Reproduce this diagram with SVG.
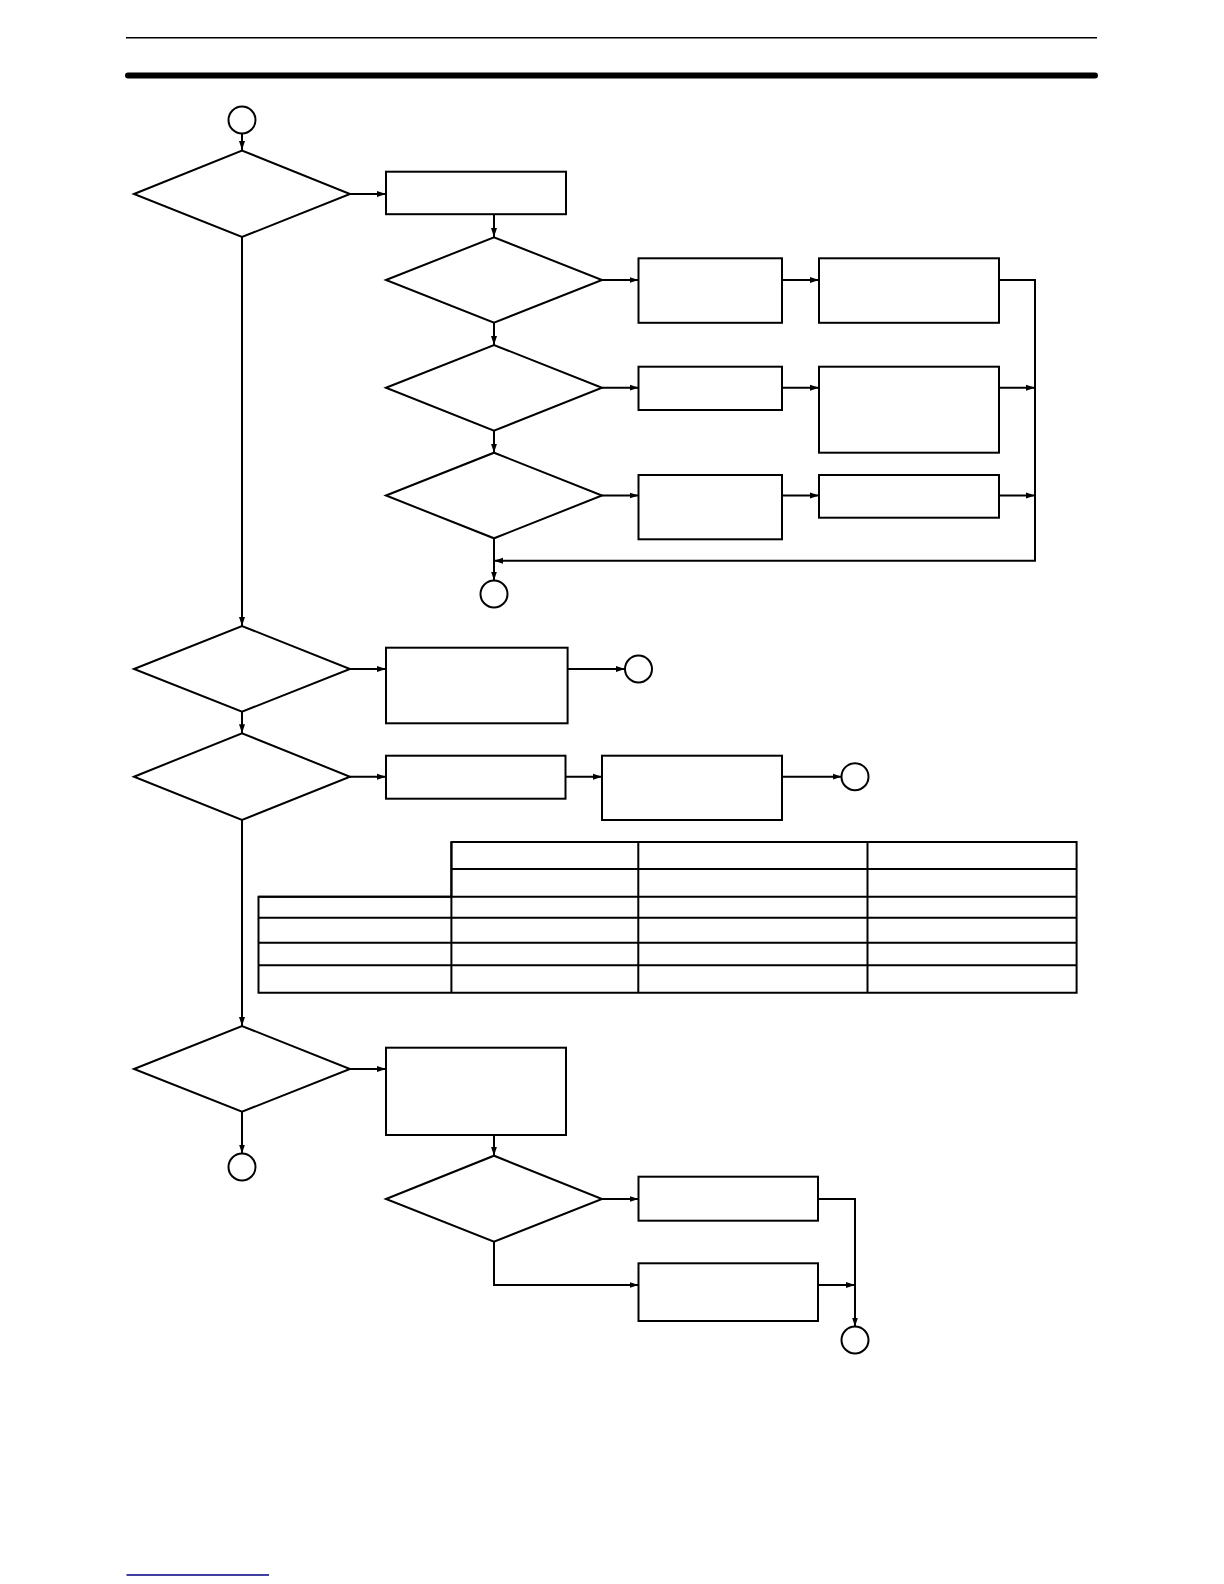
<svg xmlns="http://www.w3.org/2000/svg" width="1224" height="1584" viewBox="0 0 1224 1584">
<style>
.n{fill:#fff;stroke:#000;stroke-width:2}
.c{fill:none;stroke:#000;stroke-width:2}
.t{fill:none;stroke:#000;stroke-width:2}
</style>
<defs>
<marker id="ah" markerUnits="userSpaceOnUse" markerWidth="10" markerHeight="8" refX="9" refY="4" orient="auto">
<path d="M0,1 L9,4 L0,7 Z" fill="#000"/>
</marker>
</defs>
<rect width="1224" height="1584" fill="#fff"/>
<line x1="126" y1="37.7" x2="1097" y2="37.7" stroke="#000" stroke-width="1.6"/>
<line x1="128" y1="75.5" x2="1095" y2="75.5" stroke="#000" stroke-width="6" stroke-linecap="round"/>
<line x1="126.5" y1="1575" x2="269" y2="1575" stroke="#000080" stroke-width="1.4"/>

<g id="connectors">
<path class="c" d="M242,133.5 V150" marker-end="url(#ah)"/>
<path class="c" d="M350,194 H386" marker-end="url(#ah)"/>
<path class="c" d="M494,214 V237" marker-end="url(#ah)"/>
<path class="c" d="M602,280 H638.5" marker-end="url(#ah)"/>
<path class="c" d="M782,280 H819" marker-end="url(#ah)"/>
<path class="c" d="M999,280 H1035 V560.7 H494" marker-end="url(#ah)"/>
<path class="c" d="M494,322.7 V345" marker-end="url(#ah)"/>
<path class="c" d="M602,387.7 H638.5" marker-end="url(#ah)"/>
<path class="c" d="M782,387.7 H819" marker-end="url(#ah)"/>
<path class="c" d="M999,387.7 H1035" marker-end="url(#ah)"/>
<path class="c" d="M494,430.7 V452.7" marker-end="url(#ah)"/>
<path class="c" d="M602,495.5 H638.5" marker-end="url(#ah)"/>
<path class="c" d="M782,495.5 H819" marker-end="url(#ah)"/>
<path class="c" d="M999,495.5 H1035" marker-end="url(#ah)"/>
<path class="c" d="M494,538.3 V580.5" marker-end="url(#ah)"/>
<path class="c" d="M242,237 V626" marker-end="url(#ah)"/>
<path class="c" d="M350,669 H386" marker-end="url(#ah)"/>
<path class="c" d="M567.6,669 H625" marker-end="url(#ah)"/>
<path class="c" d="M242,711.7 V733.3" marker-end="url(#ah)"/>
<path class="c" d="M350,776.7 H386" marker-end="url(#ah)"/>
<path class="c" d="M565.5,776.7 H602" marker-end="url(#ah)"/>
<path class="c" d="M782,776.7 H841.5" marker-end="url(#ah)"/>
<path class="c" d="M242,820 V1026" marker-end="url(#ah)"/>
<path class="c" d="M350,1069 H386" marker-end="url(#ah)"/>
<path class="c" d="M242,1111.7 V1153.5" marker-end="url(#ah)"/>
<path class="c" d="M494,1135 V1155.7" marker-end="url(#ah)"/>
<path class="c" d="M602,1199 H638.5" marker-end="url(#ah)"/>
<path class="c" d="M818,1199 H855 V1326.5" marker-end="url(#ah)"/>
<path class="c" d="M494,1241.7 V1285 H638.5" marker-end="url(#ah)"/>
<path class="c" d="M818,1285 H855" marker-end="url(#ah)"/>
</g>

<g id="C1"><circle class="n" cx="242" cy="120" r="13.5"/></g>
<g id="D1"><polygon class="n" points="134,194 242,150.5 350,194 242,237"/></g>
<g id="R1"><rect class="n" x="386" y="171.7" width="180" height="42.5"/></g>
<g id="D2"><polygon class="n" points="386,280 494,237.3 602,280 494,322.7"/></g>
<g id="D3"><polygon class="n" points="386,387.7 494,345 602,387.7 494,430.7"/></g>
<g id="D4"><polygon class="n" points="386,495.5 494,452.7 602,495.5 494,538.3"/></g>
<g id="B1"><rect class="n" x="638.5" y="258.3" width="143.5" height="64.5"/></g>
<g id="B2"><rect class="n" x="819" y="258.3" width="180" height="64.5"/></g>
<g id="B3"><rect class="n" x="638.5" y="366.7" width="143.5" height="43.3"/></g>
<g id="B4"><rect class="n" x="819" y="366.7" width="180" height="86"/></g>
<g id="B5"><rect class="n" x="638.5" y="475" width="143.5" height="64.3"/></g>
<g id="B6"><rect class="n" x="819" y="475" width="180" height="42.7"/></g>
<g id="C2"><circle class="n" cx="494" cy="594" r="13.5"/></g>
<g id="D5"><polygon class="n" points="134,669 242,626 350,669 242,711.7"/></g>
<g id="R7"><rect class="n" x="386" y="647.7" width="181.6" height="75.6"/></g>
<g id="C3"><circle class="n" cx="638.5" cy="669" r="13.5"/></g>
<g id="D6"><polygon class="n" points="134,776.7 242,733.3 350,776.7 242,820"/></g>
<g id="R8"><rect class="n" x="386" y="755.7" width="179.5" height="43"/></g>
<g id="R9"><rect class="n" x="602" y="755.7" width="180" height="64.3"/></g>
<g id="C4"><circle class="n" cx="855" cy="776.7" r="13.5"/></g>

<g id="table">
<path class="t" d="M451.4,842 H1076.6 V992.7 H258.5 V896.7 H451.4 Z"/>
<path class="t" d="M451.4,869 H1076.6 M258.5,896.7 H1076.6 M258.5,917.7 H1076.6 M258.5,942.7 H1076.6 M258.5,965.3 H1076.6"/>
<path class="t" d="M451.4,842 V992.7 M638.3,842 V992.7 M867.5,842 V992.7"/>
</g>

<g id="D7"><polygon class="n" points="134,1069 242,1026 350,1069 242,1111.7"/></g>
<g id="R10"><rect class="n" x="386" y="1047.7" width="180" height="87.3"/></g>
<g id="C5"><circle class="n" cx="242" cy="1167" r="13.5"/></g>
<g id="D8"><polygon class="n" points="386,1199 494,1155.7 602,1199 494,1241.7"/></g>
<g id="R11"><rect class="n" x="638.5" y="1176.7" width="179.5" height="44"/></g>
<g id="R12"><rect class="n" x="638.5" y="1263.3" width="179.5" height="57.7"/></g>
<g id="C6"><circle class="n" cx="855" cy="1340" r="13.5"/></g>
</svg>
